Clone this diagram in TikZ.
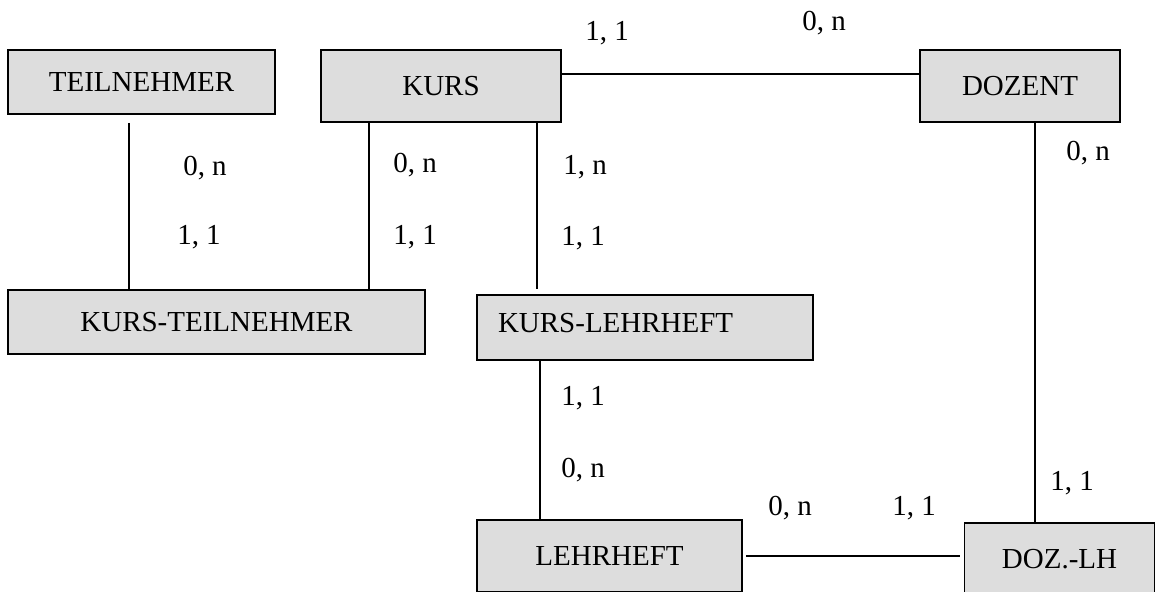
\documentclass[tikz,border=0pt]{standalone}
\usepackage{fontspec}
\setmainfont{Liberation Serif}
\usepackage{xcolor}
\definecolor{boxgray}{HTML}{DDDDDD}

\begin{document}
\begin{tikzpicture}[x=0.02cm, y=-0.02cm,
  entity/.style={draw=black, line width=1.1pt, fill=boxgray, inner sep=0pt,
    font=\fontsize{16.5}{19.8}\selectfont},
  conn/.style={line width=1.1pt},
  card/.style={inner sep=0pt, font=\fontsize{16.5}{19.8}\selectfont}
]
\useasboundingbox (0,0) rectangle (1157,592);
\clip (0,0) rectangle (1157,592);
% entities
\node[entity, minimum width=5.34cm, minimum height=1.28cm] (teilnehmer) at (141.5,82) {TEILNEHMER};
\node[entity, minimum width=4.8cm, minimum height=1.44cm] (kurs) at (441,86) {KURS};
\node[entity, minimum width=4cm, minimum height=1.44cm] (dozent) at (1020,86) {DOZENT};
\node[entity, minimum width=8.34cm, minimum height=1.28cm] (kursteil) at (216.5,322) {KURS-TEILNEHMER};
\node[entity, text width=5.88cm, inner xsep=0.42cm, align=left, text depth=0.18cm,
  minimum height=1.3cm] (kurslh) at (645,327.5) {KURS-LEHRHEFT};
\node[entity, minimum width=5.3cm, minimum height=1.44cm] (lehrheft) at (609.5,556) {LEHRHEFT};
\node[entity, minimum width=3.8cm, minimum height=1.44cm] (dozlh) at (1059.5,559) {DOZ.-LH};
% connectors
\coordinate (t1) at ([xshift=-0.25cm, yshift=-0.16cm]teilnehmer.south);
\draw[conn] (t1) -- (t1 |- kursteil.north);
\coordinate (k1) at ([xshift=-1.44cm]kurs.south);
\draw[conn] (k1) -- (k1 |- kursteil.north);
\coordinate (k2) at ([xshift=1.92cm]kurs.south);
\draw[conn, shorten >=0.1cm] (k2) -- (k2 |- kurslh.north);
\coordinate (k3) at ([yshift=0.24cm]kurs.east);
\draw[conn] (k3) -- (k3 -| dozent.west);
\coordinate (d1) at ([xshift=0.3cm]dozent.south);
\draw[conn] (d1) -- (d1 |- dozlh.north);
\coordinate (l1) at ([xshift=-2.1cm]kurslh.south);
\draw[conn] (l1) -- (l1 |- lehrheft.north);
\draw[conn, shorten <=0.06cm, shorten >=0.08cm] (lehrheft.east) -- (lehrheft.east -| dozlh.west);
% cardinalities
\node[card] (c1) at (607,33) {1, 1};
\node[card] (c2) at (824,23) {0, n};
\node[card] (c3) at (205,168) {0, n};
\node[card] (c4) at (199,237) {1, 1};
\node[card] (c5) at (415,165) {0, n};
\node[card] (c6) at (415,237) {1, 1};
\node[card] (c7) at (585,167) {1, n};
\node[card] (c8) at (583,238) {1, 1};
\node[card] (c9) at (1088,153) {0, n};
\node[card] (c10) at (583,398) {1, 1};
\node[card] (c11) at (583,470) {0, n};
\node[card] (c12) at (790,508) {0, n};
\node[card] (c13) at (914,508) {1, 1};
\node[card] (c14) at (1072,483) {1, 1};
\end{tikzpicture}
\end{document}
